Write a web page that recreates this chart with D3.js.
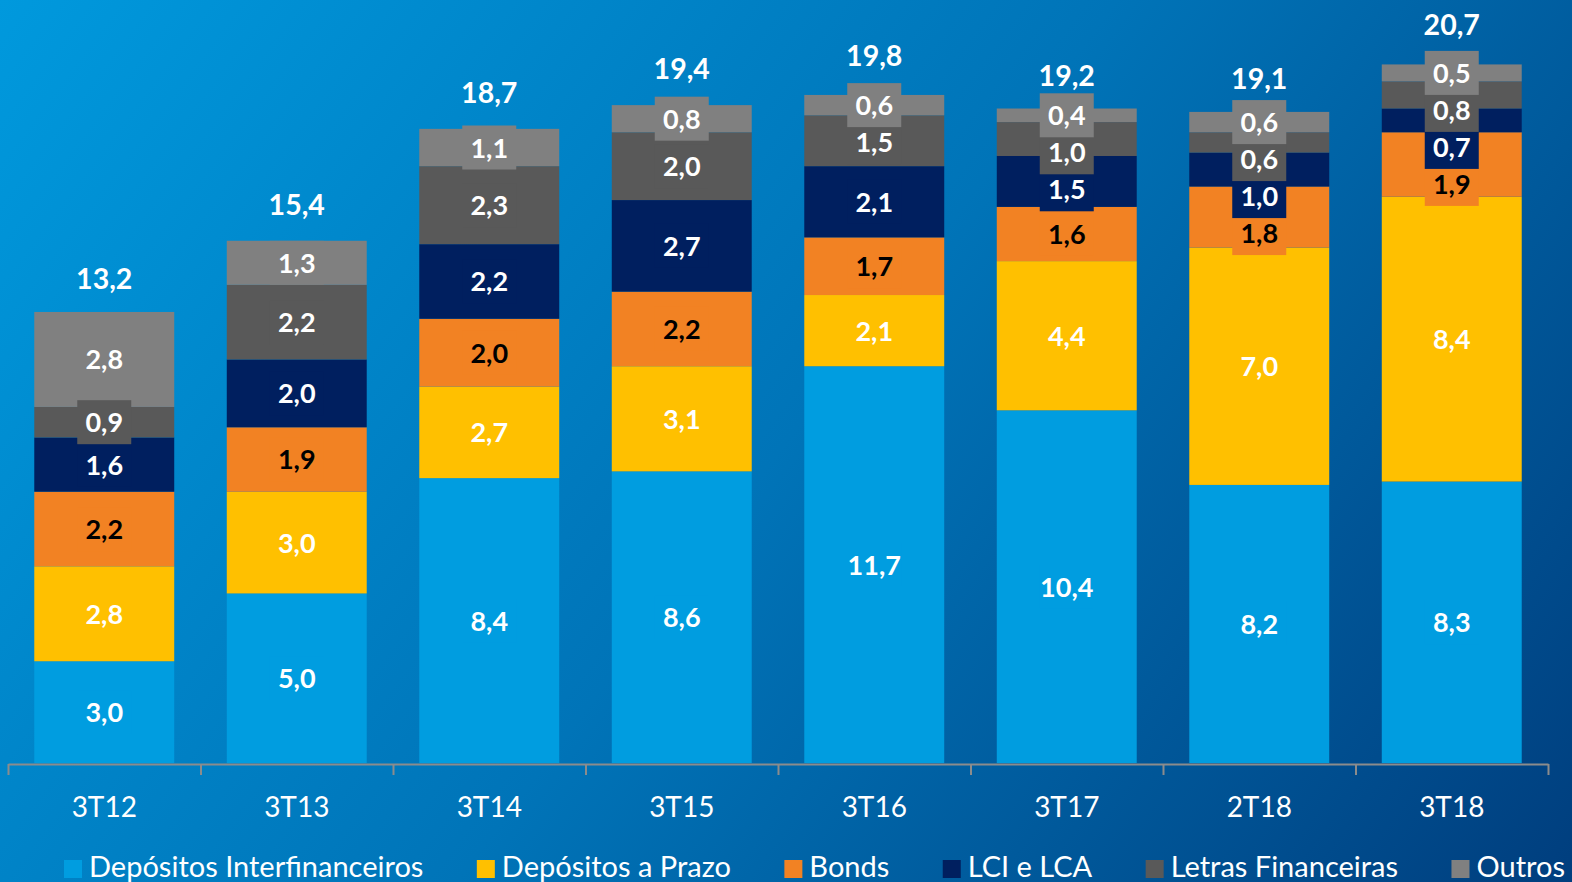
<!DOCTYPE html>
<html>
<head>
<meta charset="utf-8">
<script src="https://cdn.jsdelivr.net/npm/d3@7"></script>
<style>
  body { margin: 0; }
  svg { display: block; font-family: Lato, "Noto Sans", sans-serif; }
</style>
</head>
<body>
<svg id="chart" width="1572" height="882"></svg>
<script>
const categories = ["3T12", "3T13", "3T14", "3T15", "3T16", "3T17", "2T18", "3T18"];
const seriesNames = ["Depósitos Interfinanceiros", "Depósitos a Prazo", "Bonds", "LCI e LCA", "Letras Financeiras", "Outros"];
const depInter = [3.0, 5.0, 8.4, 8.6, 11.7, 10.4, 8.2, 8.3];
const depPrazo = [2.8, 3.0, 2.7, 3.1, 2.1, 4.4, 7.0, 8.4];
const bonds    = [2.2, 1.9, 2.0, 2.2, 1.7, 1.6, 1.8, 1.9];
const lciLca   = [1.6, 2.0, 2.2, 2.7, 2.1, 1.5, 1.0, 0.7];
const letras   = [0.9, 2.2, 2.3, 2.0, 1.5, 1.0, 0.6, 0.8];
const outros   = [2.8, 1.3, 1.1, 0.8, 0.6, 0.4, 0.6, 0.5];
const totals   = [13.2, 15.4, 18.7, 19.4, 19.8, 19.2, 19.1, 20.7];
const yMax = 22.5;

const colors = ["#009de0", "#ffc000", "#f28223", "#001f5f", "#595959", "#808080"];
const textColors = ["#fff", "#fff", "#000", "#fff", "#fff", "#fff"];

const width = 1572, height = 882;
const baseY = 764;
const svg = d3.select("#chart");

// background gradient
const grad = svg.append("defs").append("linearGradient")
    .attr("id", "bg")
    .attr("gradientUnits", "userSpaceOnUse")
    .attr("x1", 0).attr("y1", 0).attr("x2", 1430).attr("y2", 1072);
grad.append("stop").attr("offset", 0).attr("stop-color", "#0099dd");
grad.append("stop").attr("offset", 0.5).attr("stop-color", "#0074b8");
grad.append("stop").attr("offset", 1).attr("stop-color", "#003e7e");
svg.append("rect").attr("width", width).attr("height", height).attr("fill", "url(#bg)");

const fmt = d3.formatLocale({decimal: ",", thousands: ".", grouping: [3], currency: ["R$", ""]}).format(".1f");

const x = d3.scaleBand()
    .domain(categories)
    .range([8, 1548])
    .paddingInner(0.273)
    .paddingOuter(0.1365);
const y = d3.scaleLinear().domain([0, yMax]).range([baseY - 1, 0]);

const columns = [depInter, depPrazo, bonds, lciLca, letras, outros];
const rows = categories.map((c, i) => {
    const r = {cat: c};
    seriesNames.forEach((s, k) => r[s] = columns[k][i]);
    return r;
});
const stacked = d3.stack().keys(seriesNames)(rows);

// bars
svg.append("g")
    .selectAll("g")
    .data(stacked)
    .join("g")
    .attr("fill", (d, i) => colors[i])
    .selectAll("rect")
    .data(d => d)
    .join("rect")
    .attr("x", d => x(d.data.cat))
    .attr("y", d => y(d[1]))
    .attr("width", x.bandwidth())
    .attr("height", d => y(d[0]) - y(d[1]));

// label centres, pushed down when they would collide
const gap = 37;
const labelY = stacked.map(() => []);
categories.forEach((c, j) => {
    let prev = -Infinity;
    for (let s = stacked.length - 1; s >= 0; s--) {
        const seg = stacked[s][j];
        let cy = (y(seg[0]) + y(seg[1])) / 2;
        cy = Math.max(cy, prev + gap);
        labelY[s][j] = cy;
        prev = cy;
    }
});

stacked.forEach((series, s) => {
    const g = svg.append("g");
    const lab = g.selectAll("g")
        .data(series)
        .join("g")
        .attr("transform", (d, j) => `translate(${x(d.data.cat) + x.bandwidth() / 2},${labelY[s][j]})`);
    lab.append("rect")
        .attr("x", -27).attr("y", -22)
        .attr("width", 54).attr("height", 44)
        .attr("fill", colors[s]);
    lab.append("text")
        .attr("text-anchor", "middle")
        .attr("y", 10)
        .attr("fill", textColors[s])
        .attr("font-size", 27)
        .attr("font-weight", "bold")
        .text(d => fmt(d[1] - d[0]));
});

// totals
svg.append("g")
    .selectAll("text")
    .data(categories)
    .join("text")
    .attr("x", d => x(d) + x.bandwidth() / 2)
    .attr("y", (d, i) => y(totals[i]) - 26)
    .attr("text-anchor", "middle")
    .attr("fill", "#fff")
    .attr("font-size", 28.5)
    .attr("font-weight", "bold")
    .text((d, i) => fmt(totals[i]));

// axis line with ticks between categories
const edge = d3.scaleLinear().domain([0, categories.length]).range([8, 1548]);
const axisG = svg.append("g")
    .attr("transform", `translate(0,${baseY})`)
    .call(d3.axisBottom(edge).tickValues(d3.range(categories.length + 1)).tickSize(11).tickSizeOuter(0).tickFormat(""));
axisG.selectAll("path, line").attr("stroke", "#8c8c8c").attr("stroke-width", 2);

const catAxis = svg.append("g")
    .attr("transform", `translate(0,${baseY})`)
    .call(d3.axisBottom(x).tickSize(0).tickPadding(33));
catAxis.select(".domain").remove();
catAxis.selectAll("text")
    .attr("fill", "#fff")
    .attr("font-size", 28)
    .attr("font-family", "Lato, sans-serif");

// legend, spread between x=64 and x=1565
const legendLeft = 64, legendRight = 1565;
const legend = svg.append("g").attr("transform", `translate(${legendLeft},877)`);
const items = legend.selectAll("g")
    .data(seriesNames)
    .join("g");
items.append("rect")
    .attr("y", -17)
    .attr("width", 18).attr("height", 18)
    .attr("fill", (d, i) => colors[i]);
items.append("text")
    .attr("x", 25)
    .attr("fill", "#fff")
    .attr("font-size", 29)
    .text(d => d);
const itemW = items.nodes().map(n => 25 + n.querySelector("text").getComputedTextLength());
const spacing = (legendRight - legendLeft - d3.sum(itemW)) / (seriesNames.length - 1);
let lx = 0;
items.attr("transform", (d, i) => {
    const t = `translate(${lx},0)`;
    lx += itemW[i] + spacing;
    return t;
});
</script>
</body>
</html>
